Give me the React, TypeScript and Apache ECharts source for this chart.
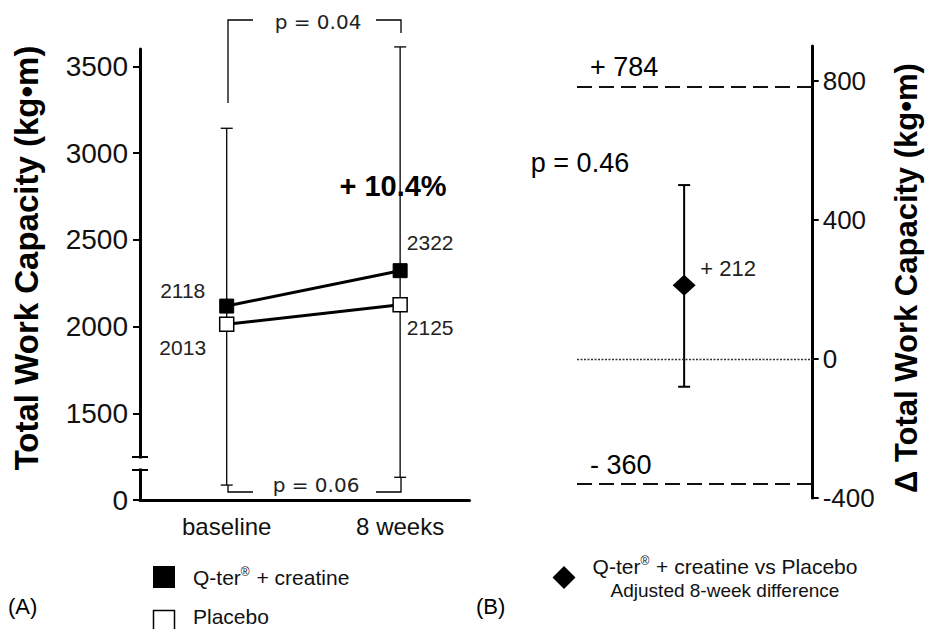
import React, { useEffect, useRef } from "react";
import * as echarts from "echarts";

// ---------- data ----------
const categories = ["baseline", "8 weeks"];
const categoryPos = [1, 2];
const qterValues = [2118, 2322];
const placeboValues = [2013, 2125];
// error bar limits, expressed on the displayed (broken) axis
const errLow = [1086, 1131];
const errHigh = [3143, 3612];
const leftTickValues = [1000, 1500, 2000, 2500, 3000, 3500];
const leftTickLabels = ["0", "1500", "2000", "2500", "3000", "3500"];

const diffValue = 212;
const diffLow = -80;
const diffHigh = 500;
const ciUpper = 784;
const ciLower = -360;
const rightTickValues = [-400, 0, 400, 800];

const FONT = "Liberation Sans";

function errorBarRender(capHalf: number, width: number) {
  return (params: any, api: any) => {
    const x = api.value(0);
    const lo = api.value(1);
    const hi = api.value(2);
    const top = api.coord([x, hi]);
    const bot = api.coord([x, lo]);
    const st = { stroke: "#000", lineWidth: width };
    return {
      type: "group",
      children: [
        { type: "line", shape: { x1: top[0], y1: top[1], x2: bot[0], y2: bot[1] }, style: st },
        { type: "line", shape: { x1: top[0] - capHalf, y1: top[1], x2: top[0] + capHalf, y2: top[1] }, style: st },
        { type: "line", shape: { x1: bot[0] - capHalf, y1: bot[1], x2: bot[0] + capHalf, y2: bot[1] }, style: st },
      ],
    };
  };
}

export default function App() {
  const ref = useRef<HTMLDivElement>(null);
  useEffect(() => {
    if (!ref.current) return;
    const chart = echarts.init(ref.current, null, { renderer: "svg" });

    const thin = { stroke: "#000", lineWidth: 1.3 };
    const option: any = {
      animation: false,
      textStyle: { fontFamily: FONT, color: "#000" },
      grid: [
        { left: 140, top: 49, width: 329.5, height: 451, containLabel: false },
        { left: 577, top: 46, width: 235.7, height: 452, containLabel: false },
      ],
      xAxis: [
        {
          type: "value",
          gridIndex: 0,
          min: 0.5,
          max: 2.4,
          splitLine: { show: false },
          axisLine: { onZero: false, lineStyle: { color: "#000", width: 3 } },
          axisTick: { show: false },
          axisLabel: {
            customValues: categoryPos,
            formatter: (v: number) => categories[categoryPos.indexOf(v)] ?? "",
            fontSize: 24,
            color: "#111",
            margin: 14,
            fontFamily: FONT,
          },
        },
        {
          type: "value",
          gridIndex: 1,
          min: 0,
          max: 2.2,
          show: false,
          splitLine: { show: false },
        },
      ],
      yAxis: [
        {
          type: "value",
          gridIndex: 0,
          min: 1000,
          max: 3600,
          splitLine: { show: false },
          axisLine: { show: true, onZero: false, lineStyle: { color: "#000", width: 3 } },
          axisTick: {
            show: true,
            customValues: leftTickValues,
            length: 7,
            lineStyle: { color: "#000", width: 2 },
          },
          axisLabel: {
            customValues: leftTickValues,
            formatter: (v: number) => leftTickLabels[leftTickValues.indexOf(v)] ?? "",
            fontSize: 28,
            color: "#111",
            margin: 12,
            fontFamily: FONT,
          },
        },
        {
          type: "value",
          gridIndex: 1,
          position: "right",
          min: -400,
          max: 900,
          splitLine: { show: false },
          axisLine: { show: true, onZero: false, lineStyle: { color: "#000", width: 3 } },
          axisTick: {
            show: true,
            customValues: rightTickValues,
            length: 6,
            lineStyle: { color: "#000", width: 2 },
          },
          axisLabel: {
            customValues: rightTickValues,
            fontSize: 26,
            color: "#111",
            margin: 10,
            fontFamily: FONT,
          },
        },
      ],
      series: [
        {
          type: "custom",
          name: "error",
          xAxisIndex: 0,
          yAxisIndex: 0,
          renderItem: errorBarRender(6, 1.3),
          encode: { x: 0, y: [1, 2] },
          data: categoryPos.map((x, i) => [x, errLow[i], errHigh[i]]),
          z: 1,
        },
        {
          type: "line",
          name: "Q-ter® + creatine",
          xAxisIndex: 0,
          yAxisIndex: 0,
          symbol: "rect",
          symbolSize: 14,
          lineStyle: { color: "#000", width: 3 },
          itemStyle: { color: "#000", borderColor: "#000", borderWidth: 1 },
          z: 3,
          label: {
            show: true,
            position: "inside",
            fontSize: 21,
            color: "#222",
            fontFamily: FONT,
            formatter: (p: any) => String(p.value[1]),
          },
          data: categoryPos.map((x, i) => ({
            value: [x, qterValues[i]],
            label: { offset: i === 0 ? [-44, -16] : [30, -28] },
          })),
        },
        {
          type: "line",
          name: "Placebo",
          xAxisIndex: 0,
          yAxisIndex: 0,
          symbol: "rect",
          symbolSize: 14,
          lineStyle: { color: "#000", width: 3 },
          itemStyle: { color: "#fff", borderColor: "#000", borderWidth: 1.5 },
          z: 3,
          label: {
            show: true,
            position: "inside",
            fontSize: 21,
            color: "#222",
            fontFamily: FONT,
            formatter: (p: any) => String(p.value[1]),
          },
          data: categoryPos.map((x, i) => ({
            value: [x, placeboValues[i]],
            label: { offset: i === 0 ? [-44, 23] : [30, 23] },
          })),
        },
        {
          type: "custom",
          name: "diffError",
          xAxisIndex: 1,
          yAxisIndex: 1,
          renderItem: errorBarRender(6, 2),
          encode: { x: 0, y: [1, 2] },
          data: [[1, diffLow, diffHigh]],
          z: 1,
        },
        {
          type: "scatter",
          name: "Adjusted 8-week difference",
          xAxisIndex: 1,
          yAxisIndex: 1,
          symbol: "diamond",
          symbolSize: [23, 21],
          itemStyle: { color: "#000", opacity: 1 },
          z: 3,
          label: {
            show: true,
            position: "inside",
            offset: [44, -17],
            fontSize: 22,
            color: "#222",
            fontFamily: FONT,
            formatter: (p: any) => "+ " + p.value[1],
          },
          data: [[1, diffValue]],
          markLine: {
            silent: true,
            symbol: ["none", "none"],
            data: [
              {
                yAxis: ciUpper,
                lineStyle: { type: [15, 7], color: "#111", width: 2 },
                label: {
                  show: true,
                  position: "insideStartTop",
                  formatter: "+ " + ciUpper,
                  fontSize: 27,
                  color: "#000",
                  fontFamily: FONT,
                  distance: [13, 6],
                },
              },
              {
                yAxis: ciLower,
                lineStyle: { type: [15, 7], color: "#111", width: 2 },
                label: {
                  show: true,
                  position: "insideStartTop",
                  formatter: "- " + Math.abs(ciLower),
                  fontSize: 27,
                  color: "#000",
                  fontFamily: FONT,
                  distance: [13, 6],
                },
              },
              {
                yAxis: 0,
                lineStyle: { type: [2, 1.5], color: "#333", width: 1.3 },
                label: { show: false },
              },
            ],
          },
        },
      ],
      graphic: [
        // left axis title
        {
          type: "text",
          x: 26,
          y: 258,
          rotation: Math.PI / 2,
          z: 100,
          style: {
            text: "Total Work Capacity (kg•m)",
            font: `bold 33px "${FONT}"`,
            fill: "#000",
            align: "center",
            verticalAlign: "middle",
          },
        },
        // right axis title
        {
          type: "text",
          x: 906,
          y: 278,
          rotation: Math.PI / 2,
          z: 100,
          style: {
            text: "Δ Total Work Capacity (kg•m)",
            font: `bold 31px "${FONT}"`,
            fill: "#000",
            align: "center",
            verticalAlign: "middle",
          },
        },
        // axis break
        { type: "rect", z: 100, shape: { x: 136, y: 458.5, width: 8, height: 10 }, style: { fill: "#fff" } },
        { type: "line", z: 101, shape: { x1: 132, y1: 457, x2: 148, y2: 457 }, style: { stroke: "#000", lineWidth: 2 } },
        { type: "line", z: 101, shape: { x1: 132, y1: 470, x2: 148, y2: 470 }, style: { stroke: "#000", lineWidth: 2 } },
        // top bracket p = 0.04
        { type: "polyline", z: 100, shape: { points: [[228, 103], [228, 20], [253, 20]] }, style: { ...thin, fill: null } },
        { type: "polyline", z: 100, shape: { points: [[376, 20], [401, 20], [401, 33]] }, style: { ...thin, fill: null } },
        {
          type: "text",
          x: 318,
          y: 22,
          z: 100,
          style: { text: "p = 0.04", font: `20px "DejaVu Sans"`, fill: "#222", align: "center", verticalAlign: "middle" },
        },
        // bottom bracket p = 0.06
        { type: "polyline", z: 100, shape: { points: [[228, 485], [228, 492], [253, 492]] }, style: { ...thin, fill: null } },
        { type: "polyline", z: 100, shape: { points: [[376, 492], [401, 492], [401, 477]] }, style: { ...thin, fill: null } },
        {
          type: "text",
          x: 316,
          y: 485,
          z: 100,
          style: { text: "p = 0.06", font: `20px "DejaVu Sans"`, fill: "#222", align: "center", verticalAlign: "middle" },
        },
        // +10.4%
        {
          type: "text",
          x: 393,
          y: 186,
          z: 100,
          style: { text: "+ 10.4%", font: `bold 29px "${FONT}"`, fill: "#000", align: "center", verticalAlign: "middle" },
        },
        // p = 0.46
        {
          type: "text",
          x: 580,
          y: 163,
          z: 100,
          style: { text: "p = 0.46", font: `27px "${FONT}"`, fill: "#000", align: "center", verticalAlign: "middle" },
        },
        // left legend
        { type: "rect", z: 100, shape: { x: 153, y: 566, width: 22, height: 22 }, style: { fill: "#000" } },
        {
          type: "text",
          x: 193,
          y: 577,
          z: 100,
          style: {
            text: "{a|Q-ter}{s|®}{a| + creatine}",
            fill: "#111",
            verticalAlign: "middle",
            rich: {
              a: { fontSize: 21, fontFamily: FONT, fill: "#111" },
              s: { fontSize: 12, fontFamily: FONT, fill: "#111", padding: [0, 1, 11, 0] },
            },
          },
        },
        { type: "rect", z: 100, shape: { x: 153.5, y: 610.5, width: 21, height: 21 }, style: { fill: "#fff", stroke: "#000", lineWidth: 1.5 } },
        {
          type: "text",
          x: 193,
          y: 616,
          z: 100,
          style: { text: "Placebo", font: `21px "${FONT}"`, fill: "#111", verticalAlign: "middle" },
        },
        // right legend
        {
          type: "polygon",
          z: 100,
          shape: { points: [[564, 566], [575.5, 577.5], [564, 589], [552.5, 577.5]] },
          style: { fill: "#000" },
        },
        {
          type: "text",
          x: 725,
          y: 566,
          z: 100,
          style: {
            text: "{a|Q-ter}{s|®}{a| + creatine vs Placebo}",
            fill: "#111",
            align: "center",
            verticalAlign: "middle",
            rich: {
              a: { fontSize: 21, fontFamily: FONT, fill: "#111" },
              s: { fontSize: 12, fontFamily: FONT, fill: "#111", padding: [0, 1, 11, 0] },
            },
          },
        },
        {
          type: "text",
          x: 725,
          y: 590,
          z: 100,
          style: { text: "Adjusted 8-week difference", font: `19px "${FONT}"`, fill: "#111", align: "center", verticalAlign: "middle" },
        },
        // panel letters
        {
          type: "text",
          x: 8,
          y: 606,
          z: 100,
          style: { text: "(A)", font: `22px "${FONT}"`, fill: "#000", verticalAlign: "middle" },
        },
        {
          type: "text",
          x: 476,
          y: 606,
          z: 100,
          style: { text: "(B)", font: `22px "${FONT}"`, fill: "#000", verticalAlign: "middle" },
        },
      ],
    };

    chart.setOption(option);
    return () => chart.dispose();
  }, []);

  return (
    <div
      ref={ref}
      style={{ position: "fixed", left: 0, top: 0, width: 934, height: 629, background: "#fff" }}
    />
  );
}
